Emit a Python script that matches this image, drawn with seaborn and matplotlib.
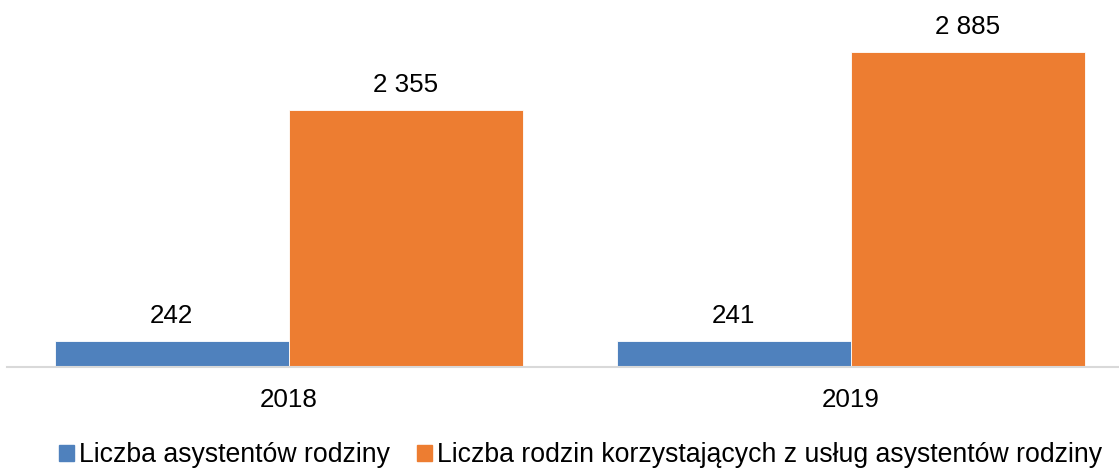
import matplotlib.pyplot as plt
import pandas as pd
import seaborn as sns
from matplotlib.patches import Patch

YEARS = ["2018", "2019"]
SERIES = [
    "Liczba asystentów rodziny",
    "Liczba rodzin korzystających z usług asystentów rodziny",
]
ASSISTANTS = [242, 241]
FAMILIES = [2355, 2885]

COLOR_BLUE = "#4f81bd"
COLOR_ORANGE = "#ed7d31"
FONT_SIZE = 18.7

sns.set_theme(style="white")
plt.rcParams["font.family"] = ["Liberation Sans", "DejaVu Sans"]
plt.rcParams["text.color"] = "black"

df = pd.DataFrame(
    {
        "year": YEARS * 2,
        "series": [SERIES[0]] * 2 + [SERIES[1]] * 2,
        "value": ASSISTANTS + FAMILIES,
    }
)

fig = plt.figure(figsize=(11.19, 4.71), dpi=100)
ax = fig.add_axes([0.006, 0.2208, 0.994, 0.7792])

sns.barplot(
    data=df,
    x="year",
    y="value",
    hue="series",
    palette=[COLOR_BLUE, COLOR_ORANGE],
    width=0.833,
    saturation=1,
    edgecolor="white",
    linewidth=0.6,
    legend=False,
    ax=ax,
)

for container in ax.containers:
    labels = [f"{v:,.0f}".replace(",", " ") for v in container.datavalues]
    ax.bar_label(container, labels=labels, padding=9, fontsize=FONT_SIZE, color="black")

ax.set_xlim(-0.502, 1.477)
ax.set_ylim(0, 3361)
ax.set_xlabel("")
ax.set_ylabel("")
ax.set_yticks([])
ax.tick_params(axis="x", length=0, pad=15, labelsize=FONT_SIZE, colors="black")
for side in ["top", "right", "left"]:
    ax.spines[side].set_visible(False)
ax.spines["bottom"].set_color("#d9d9d9")
ax.spines["bottom"].set_linewidth(1.5)

handles = [Patch(color=COLOR_BLUE), Patch(color=COLOR_ORANGE)]
fig.legend(
    handles,
    SERIES,
    loc="lower center",
    bbox_to_anchor=(0.519, -0.045),
    ncol=2,
    frameon=False,
    fontsize=19.2,
    labelcolor="black",
    handlelength=0.55,
    handleheight=0.55,
    handletextpad=0.2,
    columnspacing=1.0,
)

fig.savefig("out.png", dpi=100)
